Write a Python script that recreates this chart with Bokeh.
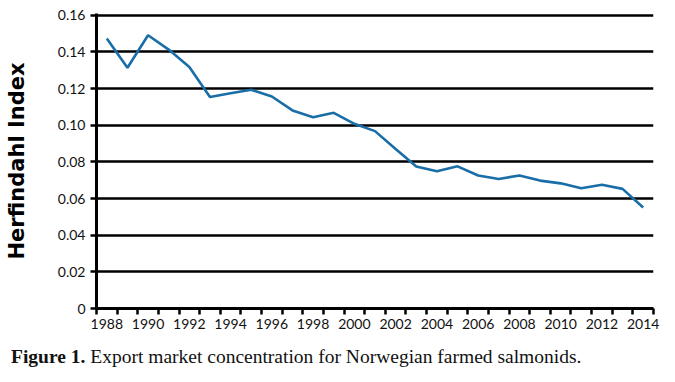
from bokeh.plotting import figure
from bokeh.models import Range1d, FixedTicker, NumeralTickFormatter, Div, ColumnDataSource
from bokeh.layouts import column
from bokeh.embed import file_html
from bokeh.resources import INLINE

years = list(range(1988, 2015))
hhi = [0.1473, 0.1314, 0.1491, 0.1413, 0.1318, 0.1154, 0.1175, 0.1194, 0.1157,
       0.1081, 0.1044, 0.1068, 0.1008, 0.0968, 0.0871, 0.0775, 0.0749, 0.0776,
       0.0726, 0.0707, 0.0726, 0.0698, 0.0683, 0.0656, 0.0675, 0.0653, 0.0551]
y_ticks = [0, 0.02, 0.04, 0.06, 0.08, 0.10, 0.12, 0.14, 0.16]
x_label_years = list(range(1988, 2015, 2))
y_title = "Herfindahl Index"
caption_bold = "Figure 1."
caption_text = "Export market concentration for Norwegian farmed salmonids."

src = ColumnDataSource(dict(year=years, hhi=hhi))

p = figure(width=665, height=343, output_backend="svg", toolbar_location=None,
           x_range=Range1d(years[0] - 0.5, years[-1] + 0.5), y_range=Range1d(0, 0.161),
           min_border_left=96, min_border_right=12, min_border_top=13, min_border_bottom=35)
p.outline_line_color = None
p.background_fill_color = "white"
p.border_fill_color = "white"

p.line("year", "hhi", source=src, line_color="#1a6ea8", line_width=2.6)

# x axis
xa = p.xaxis[0]
xa.ticker = FixedTicker(ticks=x_label_years,
                        minor_ticks=[y - 0.5 for y in years] + [years[-1] + 0.5])
xa.major_tick_out = 0
xa.major_tick_in = 0
xa.minor_tick_out = 6
xa.minor_tick_in = 0
xa.minor_tick_line_width = 2.5
xa.minor_tick_line_color = "black"
xa.axis_line_width = 3
xa.axis_line_color = "black"
xa.major_label_standoff = 4
xa.major_label_text_font = "Lato"
xa.major_label_text_font_size = "14px"
xa.major_label_text_color = "#111111"

# y axis
ya = p.yaxis[0]
ya.ticker = FixedTicker(ticks=y_ticks)
ya.formatter = NumeralTickFormatter(format="0.00")
ya.major_label_overrides = {0: "0"}
ya.major_tick_out = 6
ya.major_tick_in = 0
ya.major_tick_line_width = 2.5
ya.major_tick_line_color = "black"
ya.minor_tick_out = 0
ya.minor_tick_in = 0
ya.axis_line_width = 3
ya.axis_line_color = "black"
ya.major_label_standoff = 5
ya.major_label_text_font = "Lato"
ya.major_label_text_font_size = "14px"
ya.major_label_text_color = "#111111"
ya.axis_label = y_title
ya.axis_label_text_font = "DejaVu Sans"
ya.axis_label_text_font_style = "bold"
ya.axis_label_text_font_size = "21px"
ya.axis_label_text_color = "black"
ya.axis_label_standoff = 26

p.xgrid.grid_line_color = None
p.ygrid.grid_line_color = "black"
p.ygrid.grid_line_width = 2.6

cap = Div(text=f"<b>{caption_bold}</b> {caption_text}",
          styles={"font-family": "'Liberation Serif', serif", "font-size": "19.5px",
                  "color": "#111111", "white-space": "nowrap"},
          margin=(0, 0, 0, 11), width=640)

layout = column(p, cap)
open("out.html", "w").write(file_html(layout, INLINE))
